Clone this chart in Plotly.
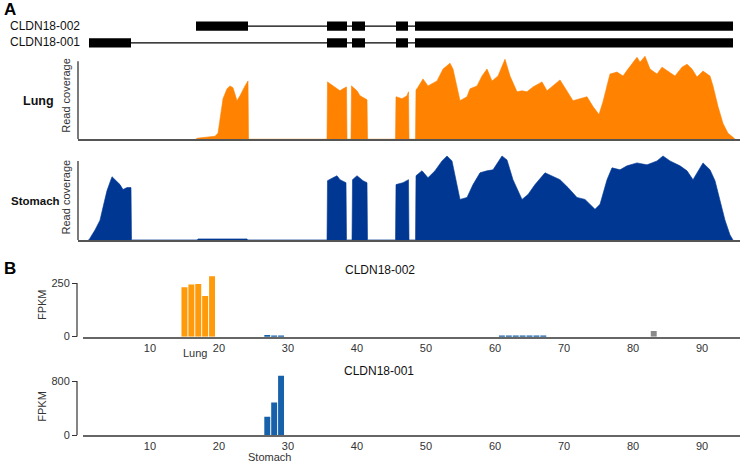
import plotly.graph_objects as go

# ---------------- data ----------------
# Gene models (genomic position, arbitrary units)
tx_names = ["CLDN18-002", "CLDN18-001"]
tx002_starts = [196, 327, 352, 396, 415]
tx002_ends = [248, 347, 365, 408, 733]
tx001_starts = [89, 327, 352, 396, 415]
tx001_ends = [131, 347, 365, 408, 733]

# Read coverage, Lung
lung_pos = [196, 197, 215, 218, 223, 227, 230, 233, 237, 240, 245, 248, 248.5,
            327, 327.5, 333, 337, 340, 343, 346.5, 347,
            351, 351.5, 357, 360, 365, 367, 367.5,
            395.5, 396, 402, 407, 408.5, 409,
            415.5, 416, 417, 423, 428, 437, 443, 450, 453, 460, 467, 470, 477, 482, 487,
            492, 498, 505, 510, 517, 522, 527, 533, 542, 547, 560, 567, 573, 580, 587,
            593, 599, 603, 610, 617, 623, 628, 637, 640, 645, 650, 657, 662, 670, 675,
            682, 687, 692, 697, 703, 710, 713, 718, 723, 728, 733, 735]
lung_cov = [0, 1, 3, 6, 41, 51, 54, 52, 39, 44, 54, 59, 0,
            0, 58, 54, 51, 49, 51, 53, 0,
            0, 54, 49, 44, 41, 40, 0,
            0, 43, 41, 44, 48, 0,
            0, 50, 51, 61, 54, 59, 71, 77, 71, 39, 43, 51, 54, 64, 71,
            59, 64, 81, 64, 48, 49, 48, 53, 58, 49, 60, 49, 39, 41, 43,
            33, 25, 38, 66, 68, 64, 71, 83, 78, 84, 71, 66, 73, 68, 64,
            73, 76, 71, 63, 69, 64, 54, 33, 16, 6, 2, 0]

# Read coverage, Stomach
stom_pos = [88.5, 89.5, 95, 100, 103, 107, 112, 115, 120, 123, 127, 131, 131.5,
            197, 198, 247, 248,
            327, 327.5, 333, 337, 340, 346, 346.5,
            352, 352.5, 357, 363, 367, 367.5,
            395.5, 396, 403, 408.5, 409,
            415.5, 416, 422, 428, 435, 442, 447, 452, 460, 467, 473, 480, 487, 493,
            502, 507, 513, 522, 528, 535, 545, 552, 560, 568, 577, 585, 595, 600, 607,
            612, 620, 627, 637, 647, 657, 663, 670, 680, 687, 693, 698, 703, 710, 715,
            720, 725, 730, 733]
stom_cov = [0, 1, 10, 20, 33, 50, 64, 61, 56, 51, 53, 53, 0,
            0, 1, 1, 0,
            0, 60, 63, 65, 61, 58, 0,
            0, 61, 65, 60, 58, 0,
            0, 56, 58, 61, 0,
            0, 65, 70, 63, 70, 80, 85, 80, 41, 43, 56, 68, 70, 71,
            85, 81, 61, 41, 46, 56, 68, 65, 61, 53, 43, 41, 31, 36, 61,
            73, 71, 75, 78, 76, 80, 85, 80, 75, 70, 61, 70, 78, 71, 60,
            40, 20, 5, 0]

# FPKM per sample, CLDN18-002
b002_lung_x = [15, 16, 17, 18, 19]
b002_lung_y = [230, 243, 246, 189, 281]
b002_stom_x = [27, 28, 29, 61, 62, 63, 64, 65, 66, 67]
b002_stom_y = [8, 5, 5, 2, 2, 2, 2, 2, 2, 2]
b002_other_x = [83]
b002_other_y = [26]

# FPKM per sample, CLDN18-001
b001_stom_x = [27, 28, 29]
b001_stom_y = [275, 485, 880]

sample_ticks = [10, 20, 30, 40, 50, 60, 70, 80, 90]

# ---------------- figure ----------------
W, H = 740, 469
def px(x):
    return x / W
def py(y):
    return 1 - y / H

ORANGE_A = "#FF8200"
BLUE_A = "#003793"
ORANGE_B = "#FF9A0A"
BLUE_B = "#1661A9"
GRAY_B = "#8A8A8A"
FONT = "Liberation Sans, Arial, sans-serif"

fig = go.Figure()

# gene models
for yi, (st, en) in zip([1, 0], [(tx002_starts, tx002_ends), (tx001_starts, tx001_ends)]):
    fig.add_trace(go.Scatter(x=[st[0], en[-1]], y=[yi, yi], mode="lines",
                             line=dict(color="black", width=1.2),
                             xaxis="x", yaxis="y", hoverinfo="skip"))
    fig.add_trace(go.Bar(orientation="h", base=st, x=[e - s for s, e in zip(st, en)],
                         y=[yi] * len(st), width=0.55, marker=dict(color="black", line=dict(width=0)),
                         xaxis="x", yaxis="y"))

# coverage
fig.add_trace(go.Scatter(x=lung_pos, y=lung_cov, mode="lines", fill="tozeroy",
                         line=dict(color=ORANGE_A, width=0.6), fillcolor=ORANGE_A,
                         xaxis="x2", yaxis="y2", hoverinfo="skip"))
fig.add_trace(go.Scatter(x=stom_pos, y=stom_cov, mode="lines", fill="tozeroy",
                         line=dict(color=BLUE_A, width=0.6), fillcolor=BLUE_A,
                         xaxis="x3", yaxis="y3", hoverinfo="skip"))

# FPKM bars
bw = 0.86
fig.add_trace(go.Bar(x=b002_lung_x, y=b002_lung_y, width=bw, marker=dict(color=ORANGE_B, line=dict(width=0)),
                     xaxis="x4", yaxis="y4"))
fig.add_trace(go.Bar(x=b002_stom_x, y=b002_stom_y, width=bw, marker=dict(color=BLUE_B, line=dict(width=0)),
                     xaxis="x4", yaxis="y4"))
fig.add_trace(go.Bar(x=b002_other_x, y=b002_other_y, width=bw, marker=dict(color=GRAY_B, line=dict(width=0)),
                     xaxis="x4", yaxis="y4"))
fig.add_trace(go.Bar(x=b001_stom_x, y=b001_stom_y, width=bw, marker=dict(color=BLUE_B, line=dict(width=0)),
                     xaxis="x5", yaxis="y5"))

xA = [px(78), 1.0]
xrangeA = [78, 740]
xB = [px(83), 1.0]
xrangeB = [0.3, 95.5]

hidden = dict(showgrid=False, zeroline=False, showticklabels=False, ticks="", showline=False, fixedrange=True)

fig.update_layout(
    width=W, height=H, margin=dict(l=0, r=0, t=0, b=0),
    paper_bgcolor="white", plot_bgcolor="rgba(0,0,0,0)",
    showlegend=False, barmode="overlay",
    font=dict(family=FONT, size=11, color="#222"),
    xaxis=dict(domain=xA, range=xrangeA, anchor="y", **hidden),
    yaxis=dict(domain=[py(52), py(18)], range=[-0.5, 1.5], anchor="x", **hidden),
    xaxis2=dict(domain=xA, range=xrangeA, anchor="y2", showgrid=False, zeroline=False,
                showticklabels=False, ticks="", showline=True, linecolor="#555", linewidth=1.5),
    yaxis2=dict(domain=[py(141), py(55)], range=[0, 86], anchor="x2", **hidden),
    xaxis3=dict(domain=xA, range=xrangeA, anchor="y3", showgrid=False, zeroline=False,
                showticklabels=False, ticks="", showline=True, linecolor="#555", linewidth=1.5),
    yaxis3=dict(domain=[py(243), py(157)], range=[0, 86], anchor="x3", **hidden),
    xaxis4=dict(domain=xB, range=xrangeB, anchor="y4", showgrid=False, zeroline=False,
                tickvals=sample_ticks, ticks="", showline=True, linecolor="#666", linewidth=1.5,
                tickfont=dict(size=11, color="#333")),
    yaxis4=dict(domain=[py(341), py(278)], range=[0, 290], anchor="free", position=px(77),
                showgrid=False, zeroline=False, tickvals=[0, 250], ticks="outside", ticklen=5,
                tickcolor="#333", tickwidth=1, showline=False, tickfont=dict(size=11, color="#333")),
    xaxis5=dict(domain=xB, range=xrangeB, anchor="y5", showgrid=False, zeroline=False,
                tickvals=sample_ticks, ticks="", showline=True, linecolor="#666", linewidth=1.5,
                tickfont=dict(size=11, color="#333")),
    yaxis5=dict(domain=[py(441), py(375)], range=[0, 960], anchor="free", position=px(77),
                showgrid=False, zeroline=False, tickvals=[0, 800], ticks="outside", ticklen=5,
                tickcolor="#333", tickwidth=1, showline=False, tickfont=dict(size=11, color="#333")),
)

# axis lines (decoration)
shapes = [
    dict(type="line", xref="paper", yref="y2", x0=px(78), x1=px(78), y0=0, y1=79,
         line=dict(color="#222", width=1.2)),
    dict(type="line", xref="paper", yref="y3", x0=px(78), x1=px(78), y0=0, y1=80,
         line=dict(color="#222", width=1.2)),
    dict(type="line", xref="paper", yref="y4", x0=px(77), x1=px(77), y0=0, y1=250,
         line=dict(color="#333", width=1.2)),
    dict(type="line", xref="paper", yref="y5", x0=px(77), x1=px(77), y0=0, y1=800,
         line=dict(color="#333", width=1.2)),
]
fig.update_layout(shapes=shapes)

ann = []
def label(x, y, text, size=11, bold=False, angle=0, xanchor="center", color="#111"):
    t = f"<b>{text}</b>" if bold else text
    ann.append(dict(xref="paper", yref="paper", x=px(x), y=py(y), text=t, showarrow=False,
                    textangle=angle, xanchor=xanchor, yanchor="middle",
                    font=dict(size=size, color=color, family=FONT)))

label(2, 10, "A", size=17, bold=True, xanchor="left", color="black")
label(2, 272, "B", size=17, bold=True, xanchor="left", color="black")
label(8, 26, tx_names[0], size=12, xanchor="left")
label(8, 43, tx_names[1], size=12, xanchor="left")
label(38, 102, "Lung", size=12.5, bold=True)
label(35, 204, "Stomach", size=11.5, bold=True)
label(66, 97, "Read coverage", size=11, angle=-90, color="#333")
label(66, 200, "Read coverage", size=11, angle=-90, color="#333")
label(42, 309, "FPKM", size=11, angle=-90, color="#333")
label(42, 412, "FPKM", size=11, angle=-90, color="#333")
label(380, 273, tx_names[0], size=12)
label(379, 376, tx_names[1], size=12)
label(195, 358, "Lung", size=11, color="#333")
label(269, 463, "Stomach", size=11, color="#333")
fig.update_layout(annotations=ann)

fig.write_html("out.html", config={"displayModeBar": False},
               post_script="document.body.style.margin='0';document.body.style.padding='0';")
